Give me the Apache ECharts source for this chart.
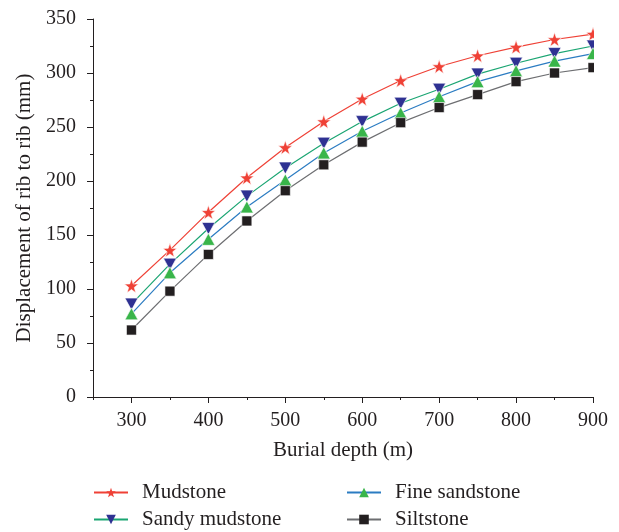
<!DOCTYPE html>
<html>
<head>
<meta charset="utf-8">
<script src="https://cdn.jsdelivr.net/npm/echarts@6/dist/echarts.min.js"></script>
<style>html,body{margin:0;padding:0;background:#fff}#c{width:619px;height:532px}</style>
</head>
<body>
<div id="c"></div>
<script>
const depths = [300, 350, 400, 450, 500, 550, 600, 650, 700, 750, 800, 850, 900];
const mudstone = [103, 136, 171, 203, 231, 255, 276, 293, 306, 316, 324, 331, 336];
const sandyMudstone = [86, 123, 156, 186, 212, 235, 255, 272, 285, 299, 309, 318, 325];
const fineSandstone = [77, 115, 146, 176, 201, 226, 246, 263, 278, 292, 302, 311, 318];
const siltstone = [62, 98, 132, 163, 191, 215, 236, 254, 268, 280, 292, 300, 305];
const xLabelValues = [300, 400, 500, 600, 700, 800, 900];
const seriesNames = ['Mudstone', 'Sandy mudstone', 'Fine sandstone', 'Siltstone'];

const TXT = '#231f20';
const FONT = '"Liberation Serif", "DejaVu Serif", serif';
const STAR = 'path://M50 0 L61.76 33.82 L97.55 34.55 L69.02 56.18 L79.39 90.45 L50 70 L20.61 90.45 L30.98 56.18 L2.45 34.55 L38.24 33.82 Z';

function pairs(vals) { return depths.map((d, i) => [d, vals[i]]); }

function mk(name, vals, lineColor, markColor, symbol, size, rotate) {
  return {
    name: name, type: 'line', data: pairs(vals),
    symbol: symbol, symbolSize: size, symbolRotate: rotate || 0,
    showAllSymbol: true,
    lineStyle: { color: lineColor, width: 1.2 },
    itemStyle: { color: markColor, borderColor: '#fff', borderWidth: 0.6 },
    emphasis: { disabled: true },
    animation: false, clip: false, z: 3
  };
}

function leg(name, left, top) {
  return {
    data: [name], orient: 'horizontal', left: left, top: top, padding: 0,
    itemWidth: 34, itemHeight: 12, itemGap: 0,
    itemStyle: { borderWidth: 0 },
    lineStyle: { width: 2 },
    textStyle: { fontFamily: FONT, fontSize: 21, color: TXT, padding: [0, 0, 0, 9] },
    selectedMode: false
  };
}

const chart = echarts.init(document.getElementById('c'), null, { renderer: 'canvas' });
chart.setOption({
  backgroundColor: '#fff',
  animation: false,
  grid: { left: 93, right: 26, top: 19, bottom: 135, containLabel: false },
  xAxis: [{
    type: 'value', min: 250, max: 900, interval: 50,
    name: 'Burial depth (m)', nameLocation: 'middle', nameGap: 43,
    nameTextStyle: { fontFamily: FONT, fontSize: 21, color: TXT },
    axisLine: { lineStyle: { color: TXT, width: 1 } },
    axisTick: { show: true, length: 6, inside: false, customValues: xLabelValues, lineStyle: { color: TXT } },
    axisLabel: { customValues: xLabelValues, fontFamily: FONT, fontSize: 20, color: TXT, margin: 14 },
    splitLine: { show: false }
  }, {
    type: 'value', min: 250, max: 900, interval: 50, position: 'bottom',
    axisLine: { show: false },
    axisTick: { show: true, length: 3, lineStyle: { color: TXT } },
    axisLabel: { show: false },
    splitLine: { show: false }
  }],
  yAxis: {
    type: 'value', min: 0, max: 350, interval: 50,
    name: 'Displacement of rib to rib (mm)', nameLocation: 'middle', nameGap: 58,
    nameTextStyle: { fontFamily: FONT, fontSize: 21, color: TXT },
    axisLine: { show: true, lineStyle: { color: TXT, width: 1 } },
    axisTick: { show: true, length: 6, lineStyle: { color: TXT } },
    minorTick: { show: true, splitNumber: 2, length: 3, lineStyle: { color: TXT } },
    axisLabel: { fontFamily: FONT, fontSize: 20, color: TXT, margin: 17 },
    splitLine: { show: false }
  },
  legend: [
    leg(seriesNames[0], 93, 482),
    leg(seriesNames[1], 93, 509),
    leg(seriesNames[2], 346, 482),
    leg(seriesNames[3], 346, 509)
  ],
  graphic: [{
    type: 'rect', left: 594, top: 0, shape: { width: 25, height: 396 },
    style: { fill: '#fff' }, z: 100, silent: true
  }],
  series: [
    mk(seriesNames[0], mudstone, '#ef4136', '#ef4136', STAR, 14),
    mk(seriesNames[1], sandyMudstone, '#1aa572', '#2e3192', 'triangle', [13, 12], 180),
    mk(seriesNames[2], fineSandstone, '#2b7cc2', '#39b54a', 'triangle', [13, 12]),
    mk(seriesNames[3], siltstone, '#6d6e71', '#231f20', 'rect', 10)
  ]
});
</script>
</body>
</html>
